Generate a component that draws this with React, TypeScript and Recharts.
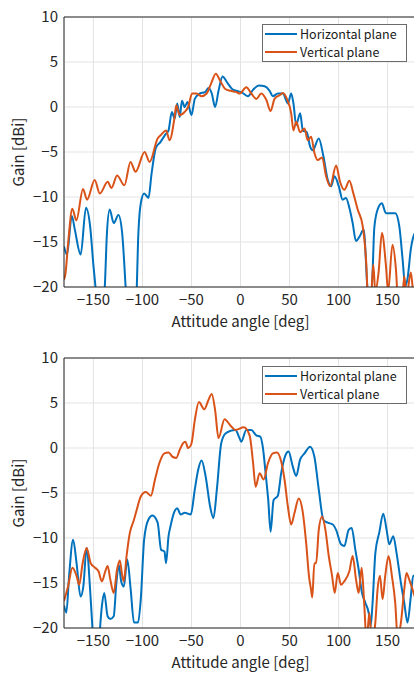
import { LineChart, Line, XAxis, YAxis, CartesianGrid, ReferenceLine } from 'recharts'

const blue = '#0072BD', orange = '#D95319', ax = '#262626', grid = '#e3e3e3'
const font = "'Noto Sans CJK JP', 'Noto Sans', sans-serif"

const xTicks = [-150, -100, -50, 0, 50, 100, 150]
const yTicks = [-20, -15, -10, -5, 0, 5, 10]

// upper plot: horizontal plane
const topHAng = [-180, -177, -172, -169, -163, -157.6, -153.4, -150, -147, -142, -138, -136.2, -133.4, -129.3, -124.5, -120.7, -117.2, -114, -109, -106, -104.5, -101.7, -98.3, -93.8, -90.7, -86.2, -81.7, -76.9, -73.4, -70, -67.2, -64.5, -62, -59.7, -56.9, -54.1, -50, -46.6, -41.4, -36.2, -32.8, -29.3, -25.9, -22.4, -18.3, -13.8, -8.6, -4.2, 0.8, 7.6, 12.7, 18.8, 24.6, 29.7, 33, 38.1, 43.2, 48.3, 51.7, 54, 56.8, 60.8, 63.6, 67.6, 71, 73.7, 79.8, 84.6, 89, 92.4, 95.8, 100.2, 104.2, 107.6, 111, 114.4, 117.8, 121.9, 125.6, 129.7, 132, 134.5, 136.4, 139.8, 144.2, 148.3, 153.4, 157.8, 161.9, 165.3, 168, 170.3, 173.7, 177.8, 180]
const topHGain = [-15.5, -16.4, -12.1, -13.6, -16.4, -11.2, -13.2, -17.6, -21, -27, -19, -14, -11.4, -12.9, -12, -14, -19.9, -26, -26, -21, -15, -10.7, -9.6, -10.1, -7.4, -4.5, -3.9, -3.1, -2.6, -0.55, -1.3, 0.4, -1.1, 0.7, 0, 0.55, -0.9, 0.9, 1.5, 1.65, 2.1, 1.5, 0, 1.8, 3.4, 2.75, 2.0, 1.8, 1.65, 1.2, 1.9, 2.4, 2.3, 1.8, 1.2, 1.5, 1.5, 0.4, 1.5, 0.4, -2.0, -0.7, -2.6, -2.8, -4.4, -4.8, -3.5, -5.5, -8.1, -8.8, -7.7, -8.8, -10.3, -10.1, -11.2, -12.9, -14.9, -14.3, -13.6, -20.5, -22, -19, -13.5, -11.4, -10.7, -11.8, -11.8, -11.8, -13.2, -16.9, -19.9, -19.1, -15.8, -14, -13.8]

// upper plot: vertical plane
const topVAng = [-180, -178.5, -175.7, -171.5, -167.4, -160.6, -156.5, -148.7, -143.5, -135.4, -131.6, -125.9, -118.4, -112.2, -107, -97.8, -92.7, -84.5, -81, -75.9, -72.4, -67.2, -65.5, -62, -57, -53.4, -49.3, -44.8, -39.7, -34.5, -30, -25.2, -20.7, -15.5, -10.3, -4.2, -0.8, 5.9, 11, 16.1, 21.2, 26.3, 30.7, 34.7, 39.8, 43.2, 47.3, 51.7, 54, 56.8, 60.8, 65.3, 68.6, 72, 75.4, 78.8, 83.2, 87.3, 91.4, 97.5, 101.5, 105.9, 111, 115.1, 119.5, 124.6, 128, 130.5, 133.5, 135.4, 137.5, 140.8, 144.2, 148.3, 150.5, 155, 158.5, 161, 164.5, 167, 169.3, 173.7, 176.5, 180]
const topVGain = [-19.2, -18.5, -15, -11.3, -12.6, -9.1, -10.3, -8.1, -9.6, -8.3, -9, -7.6, -8.7, -6.1, -7.2, -5, -6.1, -3.5, -3.1, -2.6, -3.7, -1.1, 0.2, -0.9, -0.55, 0, 1.5, 1.5, 1.2, 1.5, 2.6, 3.7, 2.9, 2.0, 1.8, 1.65, 1.5, 2.2, 1.5, 0.9, 1.5, 0.8, -0.45, 0.9, 1.3, 1.55, 0.9, -0.7, -2.6, -1.65, -2.8, -2.4, -3.7, -3.3, -5.1, -5.9, -5.6, -7.7, -8.8, -6.5, -8.3, -9.2, -8.2, -9.6, -11.4, -13.2, -16.9, -22, -20.5, -17.5, -20.5, -18.4, -14, -17.6, -20.5, -15.3, -18, -22, -22, -18.8, -21, -18.4, -21, -22]

// lower plot: horizontal plane
const botHAng = [-180, -177.6, -174.8, -170.7, -167.2, -163.1, -160.3, -156.9, -153.4, -151, -148, -144, -141.4, -139, -135.5, -132.8, -129.3, -126.6, -124.1, -121.7, -119, -115.5, -112, -108.6, -104.5, -101.7, -98.3, -94.1, -89.7, -84.5, -81, -77.6, -75.9, -73.4, -71.4, -67.9, -64.5, -61, -56.9, -50.7, -46.6, -43.1, -39.7, -35.5, -31, -27.6, -24.1, -19.7, -15.5, -10.3, -5.2, -1, 0.8, 5.9, 11, 16.1, 20.2, 22.9, 25.6, 28.3, 30.7, 33.7, 38.1, 41.5, 45.9, 49, 53.4, 56.8, 60.8, 65.3, 71, 75.4, 79.8, 84.6, 89, 94.1, 97.5, 102.5, 105.9, 110.3, 113.4, 117.1, 120.5, 123.9, 127.3, 130.7, 132.7, 134.7, 137.5, 141.5, 145.6, 149, 151.7, 155.8, 159.2, 163.6, 167, 170.3, 173.7, 176.1, 180]
const botHGain = [-17.5, -18.3, -14.2, -10.2, -12.8, -16.5, -15.4, -11.1, -15.7, -20, -25, -21, -17.6, -16.1, -18.7, -19, -18.7, -15, -13, -14.8, -15.4, -12.4, -15.7, -19.4, -19.4, -16.8, -10.2, -8, -7.5, -8.3, -11.3, -11.5, -12.8, -9.8, -8.7, -7.2, -6.7, -7.4, -7.2, -7.4, -4.6, -2.4, -1.4, -3.2, -6.5, -7.8, -4.6, 0.5, 1.6, 1.9, 2.0, 1.1, 0.7, 2.0, 2.0, 1.4, 1.25, 0, -2.8, -5.8, -9.3, -5.8, -5.3, -2.8, -0.8, -0.4, -2.1, -3.1, -1.3, -0.6, 0.15, -1, -4.6, -8.0, -8.3, -8.5, -9.1, -10.7, -10.9, -9.1, -8.9, -11.3, -13.5, -16.1, -17.2, -18.3, -19.8, -17.2, -11.7, -9.4, -7.3, -9.1, -10.7, -9.8, -11.7, -15, -17.2, -19.4, -16.5, -14.2, -14.2]

// lower plot: vertical plane
const botVAng = [-180, -175.9, -171.4, -167.2, -164.5, -161, -156.9, -152.8, -148.3, -144.8, -141.4, -137.9, -135.5, -132.8, -129.3, -125.9, -123.1, -120.7, -119, -116.2, -112.8, -109.3, -105.9, -101.7, -96.6, -91.4, -87.2, -82.8, -77.6, -73.4, -69, -65.5, -62, -58.5, -56.2, -53.4, -50, -46.6, -42.4, -36.9, -32.8, -29.3, -25.9, -22.4, -16.3, -10.3, -5.2, 3.4, 9.3, 12.7, 15.4, 19.5, 23.6, 28, 33, 37.1, 41.5, 44.9, 48.3, 51.7, 55.1, 59.4, 63.6, 67, 69.8, 71.9, 73.2, 75.3, 77.1, 79.8, 83.2, 86.6, 90, 93.4, 96.1, 99.2, 102.5, 105.9, 111, 114.4, 117.8, 120.5, 123.6, 126.3, 128.6, 131.4, 134, 137.5, 139.8, 142.2, 144.9, 147.6, 151, 154.4, 157.8, 160.2, 163.6, 167, 169.3, 172, 175.4, 177.8, 180]
const botVGain = [-17, -15.4, -13.3, -14.2, -15.2, -12.8, -11.1, -12.8, -13.3, -13.7, -14.8, -13.7, -13.1, -14.6, -16.1, -13.5, -12.5, -14.1, -14.8, -12, -9.4, -8.2, -6.9, -5.4, -4.9, -5.3, -3.5, -1.7, -0.6, -0.5, -1.0, -1.1, -0.2, 0.55, 0.7, 0, 0.5, 3.1, 5.1, 4.3, 5.3, 6.0, 4.2, 1.1, 3.2, 2.5, 2.0, 2.3, 1.4, -1.5, -4.3, -2.8, -3.5, -1.7, -0.6, -0.5, -1.5, -3.5, -6.5, -8.5, -7.2, -5.6, -7.2, -10.6, -14.2, -15.7, -16.6, -12.8, -12.8, -9.1, -7.6, -9.1, -12, -14.2, -16.1, -13.9, -15.2, -14.8, -13.7, -12, -14.6, -16.1, -13.3, -17.6, -21.5, -18.3, -21.5, -19.4, -15.7, -14.2, -16.8, -14.2, -12, -14.2, -17.2, -21, -19.4, -15.7, -13.9, -14.6, -15.7, -16.5, -16.8]

const zip = (a: number[], g: number[]) => a.map((x, i) => ({ ang: x, gain: g[i] }))
const minus = (v: number) => String(v).replace('-', '\u2212')

const tickStyle = { fontSize: 15, fill: ax, fontFamily: font }

function LegendBox({ top }: { top: number }) {
  return (
    <div style={{ position: 'absolute', left: 262, top, width: 145, height: 38, boxSizing: 'border-box', background: '#fff', border: '1px solid #6b6b6b', padding: '0 0 0 2px', fontFamily: font, fontSize: 12.5, color: '#1a1a1a', lineHeight: '18px', whiteSpace: 'nowrap' }}>
      {[{ c: blue, t: 'Horizontal plane' }, { c: orange, t: 'Vertical plane' }].map(l => (
        <div key={l.t} style={{ display: 'flex', alignItems: 'center', gap: 3, height: 18 }}>
          <div style={{ width: 32, height: 2, background: l.c }} />{l.t}
        </div>
      ))}
    </div>
  )
}

function GainPlot({ h, v }: { h: { ang: number; gain: number }[]; v: { ang: number; gain: number }[] }) {
  return (
    <LineChart width={420} height={333} margin={{ top: 17, right: 3, left: 24, bottom: 6 }}>
      <CartesianGrid stroke={grid} />
      <XAxis
        type="number" dataKey="ang" domain={[-180, 180]} ticks={xTicks} allowDataOverflow
        tick={tickStyle} tickLine={false} tickSize={5} stroke={ax} height={40} tickFormatter={minus}
        label={{ value: 'Attitude angle [deg]', position: 'insideBottom', offset: 0, style: { fontSize: 15, fill: ax, fontFamily: font } }}
      />
      <YAxis
        type="number" domain={[-20, 10]} ticks={yTicks} allowDataOverflow
        tick={tickStyle} tickLine={false} tickSize={4} stroke={ax} width={40} tickFormatter={minus}
        label={{ content: () => <text x={0} y={0} transform="translate(24 152) rotate(-90)" textAnchor="middle" fontSize={15} fill={ax} fontFamily={font}>Gain [dBi]</text> }}
      />
      <ReferenceLine y={10} stroke={ax} />
      <Line data={h} dataKey="gain" name="Horizontal plane" type="monotone" stroke={blue} strokeWidth={2} dot={false} isAnimationActive={false} />
      <Line data={v} dataKey="gain" name="Vertical plane" type="monotone" stroke={orange} strokeWidth={2} dot={false} isAnimationActive={false} />
    </LineChart>
  )
}

export default function App() {
  return (
    <div style={{ position: 'absolute', left: 0, top: 0, width: 414, height: 673, overflow: 'hidden', background: '#fff' }}>
      <div style={{ position: 'absolute', left: 0, top: 0 }}>
        <GainPlot h={zip(topHAng, topHGain)} v={zip(topVAng, topVGain)} />
      </div>
      <LegendBox top={24} />
      <div style={{ position: 'absolute', left: 0, top: 341 }}>
        <GainPlot h={zip(botHAng, botHGain)} v={zip(botVAng, botVGain)} />
      </div>
      <LegendBox top={366} />
    </div>
  )
}
